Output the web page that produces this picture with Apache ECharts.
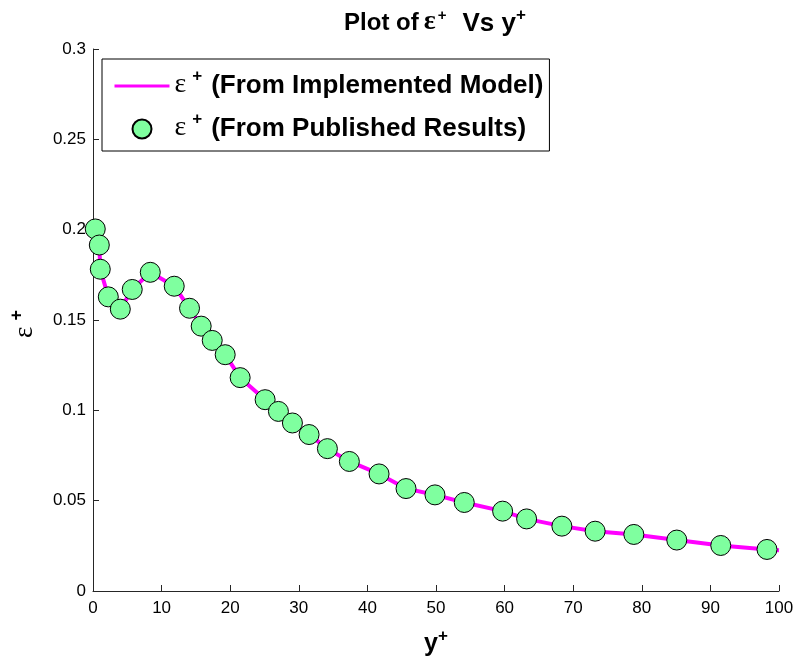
<!DOCTYPE html>
<html>
<head>
<meta charset="utf-8">
<script src="https://cdn.jsdelivr.net/npm/echarts@6/dist/echarts.min.js"></script>
<style>
  html, body { margin: 0; padding: 0; background: #fff; }
  #chart { width: 798px; height: 659px; }
</style>
</head>
<body>
<div id="chart"></div>
<script>
// Published data points (y+ vs epsilon+)
const publishedYPlus = [0.33, 0.92, 1.06, 2.23, 3.98, 5.72, 8.35, 11.84, 14.07, 15.77, 17.38, 19.27, 21.45, 25.09, 27.03, 29.07, 31.50, 34.17, 37.37, 41.70, 45.63, 49.85, 54.12, 59.71, 63.21, 68.35, 73.20, 78.84, 85.10, 91.51, 98.25];
const publishedEps = [0.2004, 0.1915, 0.1781, 0.1628, 0.1560, 0.1669, 0.1764, 0.1687, 0.1565, 0.1466, 0.1387, 0.1308, 0.1181, 0.1059, 0.0994, 0.0930, 0.0866, 0.0788, 0.0717, 0.0648, 0.0567, 0.0532, 0.0490, 0.0442, 0.0399, 0.0359, 0.0331, 0.0313, 0.0282, 0.0252, 0.0230];

// Implemented model curve
const modelYPlus = [0.33, 0.92, 1.06, 2.23, 3.98, 5.72, 8.35, 11.84, 14.07, 15.77, 17.38, 19.27, 21.45, 25.09, 27.03, 29.07, 31.50, 34.17, 37.37, 41.70, 45.63, 49.85, 54.12, 59.71, 63.21, 68.35, 73.20, 78.84, 85.10, 91.51, 98.25, 100];
const modelEps = [0.2004, 0.1915, 0.1781, 0.1628, 0.1560, 0.1669, 0.1764, 0.1687, 0.1565, 0.1466, 0.1387, 0.1308, 0.1181, 0.1059, 0.0994, 0.0930, 0.0866, 0.0788, 0.0717, 0.0648, 0.0567, 0.0532, 0.0490, 0.0442, 0.0399, 0.0359, 0.0331, 0.0313, 0.0282, 0.0252, 0.0230, 0.0226];

const xTicks = { min: 0, max: 100, interval: 10 };
const yTicks = { min: 0, max: 0.3, interval: 0.05 };

const legendNames = ['model', 'published'];
const legendTexts = { model: '(From Implemented Model)', published: '(From Published Results)' };

const SANS = 'Arial, "Liberation Sans", Helvetica, sans-serif';
const SERIF = '"Times New Roman", "Liberation Serif", "DejaVu Serif", serif';
const AXIS_COLOR = '#262626';

const chart = echarts.init(document.getElementById('chart'), null, { renderer: 'canvas' });

chart.setOption({
  backgroundColor: '#ffffff',
  animation: false,
  title: {
    text: '{a|Plot of}{e|ε}{s|+}{b|Vs y}{s2|+}',
    left: 430,
    textAlign: 'center',
    top: 2,
    textStyle: {
      rich: {
        a: { fontFamily: SANS, fontWeight: 'bold', fontSize: 24, color: '#000' },
        e: { fontFamily: SERIF, fontSize: 28, color: '#000', padding: [0, 2, 3, 5] },
        s: { fontFamily: SANS, fontWeight: 'bold', fontSize: 15, color: '#000', padding: [0, 13, 16, 0] },
        b: { fontFamily: SANS, fontWeight: 'bold', fontSize: 26, color: '#000', padding: [0, 0, 0, 3] },
        s2: { fontFamily: SANS, fontWeight: 'bold', fontSize: 17, color: '#000', padding: [0, 0, 16, 0] }
      }
    }
  },
  legend: {
    data: [
      { name: legendNames[0], itemStyle: { opacity: 0 }, lineStyle: { width: 3 } },
      { name: legendNames[1] }
    ],
    orient: 'vertical',
    left: 102,
    top: 59,
    padding: [9, 6, 9, 11],
    itemGap: 12,
    itemWidth: 55,
    itemHeight: 19,
    backgroundColor: '#ffffff',
    borderColor: '#000000',
    borderWidth: 1,
    borderRadius: 0,
    formatter: function (name) {
      return '{e|ε}{s|+}{t|' + legendTexts[name] + '}';
    },
    textStyle: {
      rich: {
        e: { fontFamily: SERIF, fontSize: 28, color: '#000', padding: [0, 6, 3, 0] },
        s: { fontFamily: SANS, fontWeight: 'bold', fontSize: 17, color: '#000', padding: [0, 9, 19, 0] },
        t: { fontFamily: SANS, fontWeight: 'bold', fontSize: 26, color: '#000' }
      }
    }
  },
  grid: {
    left: 93,
    right: 19,
    top: 49,
    bottom: 68,
    containLabel: false,
    outerBoundsMode: 'none'
  },
  xAxis: {
    type: 'value',
    min: xTicks.min,
    max: xTicks.max,
    interval: xTicks.interval,
    name: '{y|y}{s|+}',
    nameLocation: 'middle',
    nameGap: 37,
    nameTextStyle: {
      rich: {
        y: { fontFamily: SANS, fontWeight: 'bold', fontSize: 25, color: '#000' },
        s: { fontFamily: SANS, fontWeight: 'bold', fontSize: 17, color: '#000', padding: [0, 0, 16, 0] }
      }
    },
    axisLine: { show: true, onZero: false, lineStyle: { color: AXIS_COLOR, width: 1 } },
    axisTick: { show: true, inside: true, length: 6, lineStyle: { color: AXIS_COLOR } },
    axisLabel: { color: '#000', fontFamily: SANS, fontSize: 17, margin: 9 },
    splitLine: { show: false }
  },
  yAxis: {
    type: 'value',
    min: yTicks.min,
    max: yTicks.max,
    interval: yTicks.interval,
    name: '{e|ε}{s|+}',
    nameLocation: 'middle',
    nameGap: 51,
    nameTextStyle: {
      rich: {
        e: { fontFamily: SERIF, fontSize: 27, color: '#000', padding: [0, 6, 0, 0] },
        s: { fontFamily: SANS, fontWeight: 'bold', fontSize: 18, color: '#000', padding: [0, 8, 16, 0] }
      }
    },
    axisLine: { show: true, onZero: false, lineStyle: { color: AXIS_COLOR, width: 1 } },
    axisTick: { show: true, inside: true, length: 6, lineStyle: { color: AXIS_COLOR } },
    axisLabel: { color: '#000', fontFamily: SANS, fontSize: 17, margin: 7 },
    splitLine: { show: false }
  },
  series: [
    {
      name: 'model',
      type: 'line',
      data: modelYPlus.map((x, i) => [x, modelEps[i]]),
      symbol: 'none',
      smooth: false,
      lineStyle: { color: '#ff00ff', width: 4 },
      itemStyle: { color: '#ff00ff' },
      z: 2
    },
    {
      name: 'published',
      type: 'scatter',
      data: publishedYPlus.map((x, i) => [x, publishedEps[i]]),
      symbol: 'circle',
      symbolSize: 20,
      itemStyle: { color: '#7fff9f', borderColor: '#000000', borderWidth: 1, opacity: 1 },
      z: 3
    }
  ]
});
</script>
</body>
</html>
